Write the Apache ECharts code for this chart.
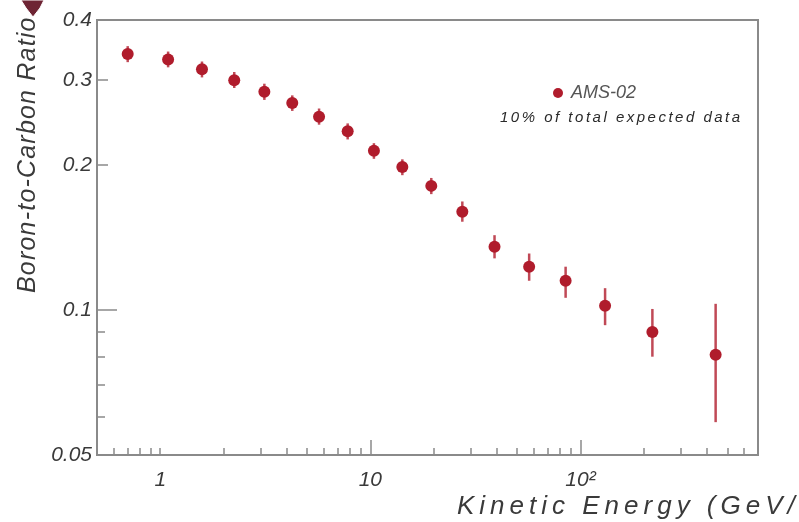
<!DOCTYPE html>
<html><head><meta charset="utf-8">
<script src="https://cdn.jsdelivr.net/npm/echarts@6/dist/echarts.min.js"></script>
<style>html,body{margin:0;padding:0;background:#fff}#c{width:799px;height:522px}</style>
</head><body><div id="c"></div>
<script>
// ---- data ----
const energy  = [0.7, 1.09, 1.58, 2.25, 3.13, 4.25, 5.7, 7.8, 10.4, 14.2, 19.5, 27.4, 39, 57, 85, 131, 220, 440];
const ratio   = [0.340, 0.331, 0.316, 0.300, 0.284, 0.269, 0.252, 0.235, 0.214, 0.198, 0.181, 0.160, 0.1353, 0.123, 0.115, 0.102, 0.090, 0.0807];
const errLow  = [0.327, 0.319, 0.304, 0.289, 0.273, 0.259, 0.2425, 0.226, 0.206, 0.1905, 0.174, 0.1525, 0.128, 0.115, 0.106, 0.093, 0.080, 0.0585];
const errHigh = [0.353, 0.344, 0.328, 0.312, 0.295, 0.279, 0.262, 0.244, 0.222, 0.2055, 0.188, 0.168, 0.143, 0.131, 0.123, 0.111, 0.1005, 0.103];
const yLabelValues = [0.05, 0.1, 0.2, 0.3, 0.4];
const yMajorTicks = [0.1];
const yMidTicks = [0.2, 0.3];
const yMinorTicks = [0.06, 0.07, 0.08, 0.09];
const xLabelValues = [1, 10, 100];
const xMajorTicks = [10, 100];
const xMinorTicks = [0.6, 0.7, 0.8, 0.9, 1, 2, 3, 4, 5, 6, 7, 8, 9, 20, 30, 40, 50, 60, 70, 80, 90, 200, 300, 400, 500, 600];
const seriesName = 'AMS-02';
const noteText = '10% of total expected data';
const xTitle = 'Kinetic Energy (GeV/n)';
const yTitle = 'Boron-to-Carbon Ratio';

const RED = '#b01c2c';
const GRAY = '#8a8a8a';
const TXT = '#3a3a3a';
const FONT = "'Liberation Sans', Arial, sans-serif";

const meas = document.createElement('canvas').getContext('2d');
function spacedText(str, x0, y0, size, spacing, color, vertical, weight) {
  meas.font = 'italic ' + (weight || 'normal') + ' ' + size + 'px ' + FONT;
  let pos = 0; const els = [];
  for (const ch of str) {
    const w = meas.measureText(ch).width;
    if (ch !== ' ') {
      els.push({
        type: 'text',
        x: vertical ? x0 : x0 + pos,
        y: vertical ? y0 - pos : y0,
        rotation: vertical ? Math.PI / 2 : 0,
        silent: true,
        style: { text: ch, fontSize: size, fontFamily: FONT, fontStyle: 'italic', fontWeight: weight || 'normal',
                 fill: color, align: 'left', verticalAlign: 'middle' }
      });
    }
    pos += w + spacing;
  }
  return els;
}

const xBase = { type: 'log', logBase: 10, min: 0.5, max: 700, gridIndex: 0, splitLine: { show: false }, position: 'bottom' };
const yBase = { type: 'log', logBase: 10, min: 0.05, max: 0.4, gridIndex: 0, splitLine: { show: false }, position: 'left' };
const lineStyle = { color: GRAY, width: 2 };

const errData = energy.map((x, i) => [x, errLow[i], errHigh[i]]);
const ptData = energy.map((x, i) => [x, ratio[i]]);

const chart = echarts.init(document.getElementById('c'), null, { renderer: 'canvas' });
chart.setOption({
  backgroundColor: '#ffffff',
  animation: false,
  grid: { left: 97, right: 41, top: 20, bottom: 67, show: true, borderColor: GRAY, borderWidth: 2, backgroundColor: 'transparent' },
  xAxis: [
    Object.assign({}, xBase, {
      axisLine: { show: true, lineStyle },
      axisTick: { show: true, inside: true, length: 15, customValues: xMajorTicks, lineStyle: { color: GRAY, width: 1.5 } },
      axisLabel: {
        show: true, customValues: xLabelValues, margin: 15, color: TXT, fontSize: 21, fontStyle: 'italic', fontFamily: FONT,
        formatter: v => (Math.abs(v - 100) < 1e-6 ? '10\u00B2' : String(Math.round(v)))
      }
    }),
    Object.assign({}, xBase, {
      axisLine: { show: false },
      axisTick: { show: true, inside: true, length: 7, customValues: xMinorTicks, lineStyle: { color: GRAY, width: 1.5 } },
      axisLabel: { show: false }
    })
  ],
  yAxis: [
    Object.assign({}, yBase, {
      axisLine: { show: true, lineStyle },
      axisTick: { show: true, inside: true, length: 20, customValues: yMajorTicks, lineStyle: { color: GRAY, width: 1.5 } },
      axisLabel: {
        show: true, customValues: yLabelValues, margin: 5, color: TXT, fontSize: 21, fontStyle: 'italic', fontFamily: FONT,
        formatter: v => String(+v.toFixed(2))
      }
    }),
    Object.assign({}, yBase, {
      axisLine: { show: false },
      axisTick: { show: true, inside: true, length: 11, customValues: yMidTicks, lineStyle: { color: GRAY, width: 1.5 } },
      axisLabel: { show: false }
    }),
    Object.assign({}, yBase, {
      axisLine: { show: false },
      axisTick: { show: true, inside: true, length: 8, customValues: yMinorTicks, lineStyle: { color: GRAY, width: 1.5 } },
      axisLabel: { show: false }
    })
  ],
  legend: {
    data: [{ name: seriesName, icon: 'circle' }],
    left: 548, top: 79, itemWidth: 10, itemHeight: 10,
    textStyle: { color: '#555', fontSize: 18, fontStyle: 'italic', fontFamily: FONT, padding: [0, 0, 0, 3] }
  },
  series: [
    {
      type: 'custom', name: 'err', xAxisIndex: 0, yAxisIndex: 0, z: 2,
      data: errData,
      encode: { x: 0, y: [1, 2] },
      renderItem: function (params, api) {
        const x = api.value(0);
        const p1 = api.coord([x, api.value(1)]);
        const p2 = api.coord([x, api.value(2)]);
        return { type: 'line', shape: { x1: p1[0], y1: p1[1], x2: p2[0], y2: p2[1] },
                 style: { stroke: RED, lineWidth: 2.5, opacity: 0.8 } };
      }
    },
    {
      type: 'scatter', name: seriesName, xAxisIndex: 0, yAxisIndex: 0, z: 3,
      data: ptData, symbol: 'circle', symbolSize: 12,
      itemStyle: { color: RED, opacity: 1 }
    }
  ],
  graphic: [].concat(
    spacedText(noteText, 500, 118, 15, 2.5, '#2a2a2a', false),
    spacedText(xTitle, 457, 507, 26, 5, TXT, false),
    spacedText(yTitle, 28, 293, 25, 1.2, TXT, true),
    [{
      type: 'polygon', silent: true,
      shape: { points: [[21, 0], [44, 0], [40, 8], [33, 17], [26, 8]] },
      style: { fill: '#6e2434', stroke: '#ffffff', lineWidth: 1 }
    }]
  )
});
</script>
</body></html>
